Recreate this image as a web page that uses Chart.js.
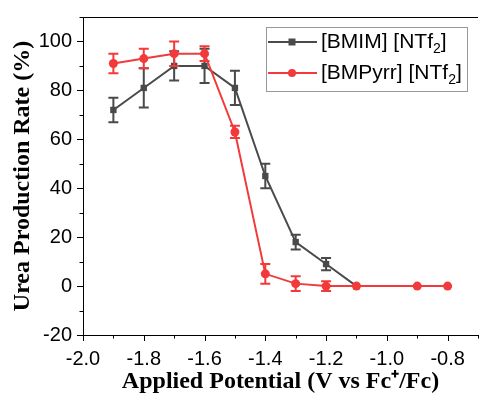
<!DOCTYPE html>
<html>
<head>
<meta charset="utf-8">
<script src="https://cdn.jsdelivr.net/npm/chart.js@4"></script>
<style>
  html, body { margin: 0; padding: 0; background: #fff; }
  #wrap { width: 480px; height: 396px; overflow: hidden; }
</style>
</head>
<body>
<div id="wrap"><canvas id="chart" width="484" height="396"></canvas></div>
<script>
// Potentials (V vs Fc+/Fc) and urea production rates (%)
const bmimX = [-1.9, -1.8, -1.7, -1.6, -1.5, -1.4, -1.3, -1.2, -1.1];
const bmimValues = [72, 81, 90, 90, 81, 45, 18, 9, 0];
const bmimErrors = [5, 8, 6, 7, 7, 5, 3, 2.5, 0];

const bmpyrrX = [-1.9, -1.8, -1.7, -1.6, -1.5, -1.4, -1.3, -1.2, -1.1, -0.9, -0.8];
const bmpyrrValues = [91, 93, 95, 95, 63, 5, 1, 0, 0, 0, 0];
const bmpyrrErrors = [4, 4, 5, 3, 2.5, 4, 3, 2, 0, 0, 0];

const seriesNames = ['[BMIM] [NTf', '[BMPyrr] [NTf'];
const grayColor = '#4a4a4a';
const redColor = '#f23a3a';

const toPoints = (xs, ys) => xs.map((x, i) => ({ x: x, y: ys[i] }));

// error bars, drawn right after each dataset
const errorBars = {
    id: 'errorBars',
    afterDatasetDraw(chart, args) {
        const ds = chart.data.datasets[args.index];
        if (!ds.errors) return;
        const ctx = chart.ctx;
        const xs = chart.scales.x, ys = chart.scales.y;
        ctx.save();
        ctx.strokeStyle = ds.borderColor;
        ctx.lineWidth = 2;
        ds.data.forEach((p, i) => {
            const e = ds.errors[i];
            if (!e) return;
            const px = xs.getPixelForValue(p.x);
            const top = ys.getPixelForValue(p.y + e);
            const bot = ys.getPixelForValue(p.y - e);
            ctx.beginPath();
            ctx.moveTo(px, top); ctx.lineTo(px, bot);
            ctx.moveTo(px - 5, top); ctx.lineTo(px + 5, top);
            ctx.moveTo(px - 5, bot); ctx.lineTo(px + 5, bot);
            ctx.stroke();
        });
        ctx.restore();
    }
};

// tick marks (major/minor), top frame line and the legend box
const frame = {
    id: 'frame',
    afterDraw(chart) {
        const ctx = chart.ctx;
        const area = chart.chartArea;
        const xs = chart.scales.x, ys = chart.scales.y;
        ctx.save();
        ctx.strokeStyle = '#000';
        ctx.lineWidth = 1;
        ctx.beginPath();
        ctx.moveTo(area.left, area.top + 0.5);
        ctx.lineTo(area.right, area.top + 0.5);
        xs.ticks.forEach(t => {
            const px = Math.round(xs.getPixelForValue(t.value)) + 0.5;
            const major = Math.round(t.value * 10) % 2 === 0;
            ctx.moveTo(px, area.bottom);
            ctx.lineTo(px, area.bottom + (major ? 6 : 3.5));
        });
        ys.ticks.forEach(t => {
            const py = Math.round(ys.getPixelForValue(t.value)) + 0.5;
            const major = Math.round(t.value) % 20 === 0;
            ctx.moveTo(area.left, py);
            ctx.lineTo(area.left - (major ? 6 : 3.5), py);
        });
        ctx.stroke();

        // legend
        const bx = 266, by = 27, bw = 201, bh = 64;
        ctx.strokeStyle = '#999';
        ctx.strokeRect(bx + 0.5, by + 0.5, bw, bh);
        const colors = [grayColor, redColor];
        colors.forEach((c, i) => {
            const ly = by + 15 + i * 31;
            ctx.strokeStyle = c;
            ctx.fillStyle = c;
            ctx.lineWidth = 2;
            ctx.beginPath();
            ctx.moveTo(268, ly); ctx.lineTo(317, ly);
            ctx.stroke();
            ctx.beginPath();
            if (i === 0) {
                ctx.rect(288.5, ly - 3.5, 7, 7);
            } else {
                ctx.arc(292, ly, 4, 0, Math.PI * 2);
            }
            ctx.fill();
            ctx.fillStyle = '#000';
            ctx.textBaseline = 'middle';
            ctx.font = '21px "Liberation Sans", Arial, sans-serif';
            const name = seriesNames[i];
            ctx.fillText(name, 321, ly);
            let w = ctx.measureText(name).width;
            ctx.font = '14px "Liberation Sans", Arial, sans-serif';
            ctx.fillText('2', 321 + w, ly + 7);
            w += ctx.measureText('2').width;
            ctx.font = '21px "Liberation Sans", Arial, sans-serif';
            ctx.fillText(']', 321 + w, ly);
        });
        ctx.restore();
    }
};

new Chart(document.getElementById('chart'), {
    type: 'line',
    data: {
        datasets: [
            {
                label: seriesNames[0] + '2]',
                data: toPoints(bmimX, bmimValues),
                errors: bmimErrors,
                borderColor: grayColor,
                backgroundColor: grayColor,
                borderWidth: 2,
                pointStyle: 'rect',
                pointRadius: 4.5,
                pointBorderWidth: 0,
                tension: 0,
                order: 1
            },
            {
                label: seriesNames[1] + '2]',
                data: toPoints(bmpyrrX, bmpyrrValues),
                errors: bmpyrrErrors,
                borderColor: redColor,
                backgroundColor: redColor,
                borderWidth: 2,
                pointStyle: 'circle',
                pointRadius: 4.5,
                pointBorderWidth: 0,
                tension: 0,
                order: 0
            }
        ]
    },
    options: {
        responsive: false,
        animation: false,
        layout: { padding: { top: 14, right: 0, left: 0, bottom: 0 } },
        plugins: {
            legend: { display: false },
            tooltip: { enabled: false }
        },
        scales: {
            x: {
                type: 'linear',
                min: -2.0,
                max: -0.7,
                grid: { display: false, drawTicks: true, tickLength: 6 },
                border: { display: true, color: '#000', width: 1 },
                ticks: {
                    stepSize: 0.1,
                    autoSkip: false,
                    maxRotation: 0,
                    padding: 6,
                    color: '#000',
                    font: { family: '"Liberation Sans", Arial, sans-serif', size: 20 },
                    callback: v => Math.round(v * 10) % 2 === 0 ? v.toFixed(1) : ''
                },
                title: {
                    display: true,
                    text: 'Applied Potential (V vs Fc\u207A/Fc)',
                    color: '#000',
                    font: { family: '"Liberation Serif", "Times New Roman", serif', size: 24, weight: 'bold' },
                    padding: { top: 9, bottom: 0 }
                },
                afterFit: s => { s.height = 61; }
            },
            y: {
                min: -20,
                max: 110,
                grid: { display: false, drawTicks: true, tickLength: 6 },
                border: { display: true, color: '#000', width: 1 },
                ticks: {
                    stepSize: 10,
                    autoSkip: false,
                    padding: 5,
                    color: '#000',
                    font: { family: '"Liberation Sans", Arial, sans-serif', size: 20 },
                    callback: v => (v % 20 === 0 && v <= 100) ? v : ''
                },
                title: {
                    display: true,
                    text: 'Urea Production Rate (%)',
                    color: '#000',
                    font: { family: '"Liberation Serif", "Times New Roman", serif', size: 24, weight: 'bold' },
                    padding: { top: 8, bottom: 4 }
                },
                afterFit: s => { s.width = 83; }
            }
        }
    },
    plugins: [errorBars, frame]
});
</script>
</body>
</html>
